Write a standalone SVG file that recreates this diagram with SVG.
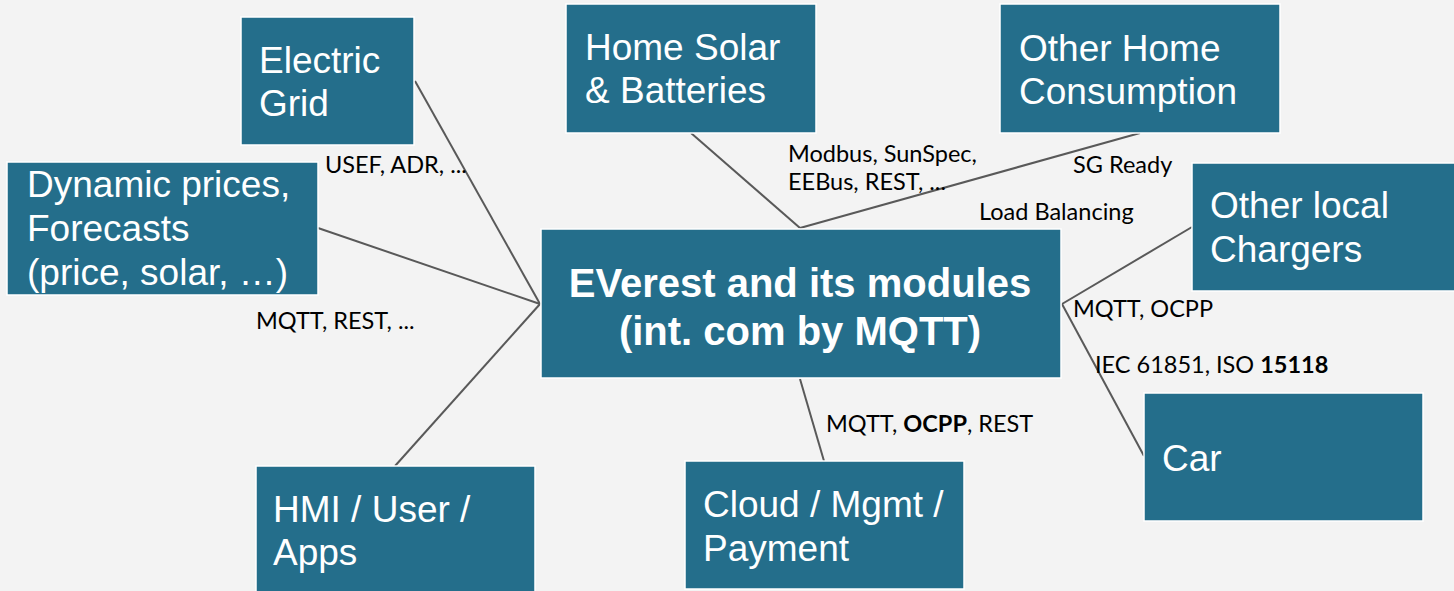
<svg xmlns="http://www.w3.org/2000/svg" width="1454" height="591" viewBox="0 0 1454 591">
<style>
.box{fill:#246e8b;stroke:#ffffff;stroke-width:1.5}
.t{font-family:"Liberation Sans",Arial,sans-serif;font-size:37px;fill:#ffffff}
.tb{font-family:"Liberation Sans",Arial,sans-serif;font-size:40px;font-weight:bold;fill:#ffffff;text-anchor:middle}
.l{font-family:Lato,"Liberation Sans",sans-serif;font-size:23.5px;fill:#000000}
.c{stroke:#595959;stroke-width:2;fill:none}
</style>
<rect width="1454" height="591" fill="#f3f3f3"/>
<g id="connectors">
<line class="c" x1="415" y1="81" x2="540" y2="304"/>
<line class="c" x1="318" y1="228" x2="540" y2="304"/>
<line class="c" x1="395" y1="466" x2="540" y2="304"/>
<line class="c" x1="691" y1="133" x2="800" y2="228"/>
<line class="c" x1="1140" y1="133" x2="800" y2="228"/>
<line class="c" x1="1192" y1="227" x2="1062" y2="304"/>
<line class="c" x1="1062" y1="304" x2="1144" y2="456"/>
<line class="c" x1="800" y1="379" x2="824" y2="461"/>
<text class="l" x="325" y="173">USEF, ADR, ...</text>
<text class="l" x="788" y="162">Modbus, SunSpec,</text>
<text class="l" x="788" y="190">EEBus, REST, ...</text>
<text class="l" x="1073" y="173">SG Ready</text>
<text class="l" x="979" y="220">Load Balancing</text>
<text class="l" x="256" y="329">MQTT, REST, ...</text>
<text class="l" x="1073" y="317">MQTT, OCPP</text>
<text class="l" x="1095" y="373">IEC 61851, ISO <tspan font-weight="bold">15118</tspan></text>
<text class="l" x="826" y="432">MQTT, <tspan font-weight="bold">OCPP</tspan>, REST</text>
</g>
<g id="electric-grid">
<rect class="box" x="241" y="17" width="173" height="128"/>
<text class="t" x="259" y="73">Electric</text>
<text class="t" x="259" y="116">Grid</text>
</g>
<g id="dynamic-prices">
<rect class="box" x="7" y="162" width="311" height="133"/>
<text class="t" x="27" y="197">Dynamic prices,</text>
<text class="t" x="27" y="241">Forecasts</text>
<text class="t" x="27" y="285">(price, solar, …)</text>
</g>
<g id="home-solar">
<rect class="box" x="566" y="4" width="250" height="129"/>
<text class="t" x="585" y="60">Home Solar</text>
<text class="t" x="585" y="103">&amp; Batteries</text>
</g>
<g id="other-home">
<rect class="box" x="1000" y="4" width="280" height="129"/>
<text class="t" x="1019" y="61">Other Home</text>
<text class="t" x="1019" y="104">Consumption</text>
</g>
<g id="other-chargers">
<rect class="box" x="1192" y="163" width="264" height="128"/>
<text class="t" x="1210" y="218">Other local</text>
<text class="t" x="1210" y="262">Chargers</text>
</g>
<g id="everest">
<rect class="box" x="541" y="229" width="520" height="149"/>
<text class="tb" x="800" y="297">EVerest and its modules</text>
<text class="tb" x="800" y="345">(int. com by MQTT)</text>
</g>
<g id="hmi">
<rect class="box" x="256" y="466" width="279" height="130"/>
<text class="t" x="273" y="522">HMI / User /</text>
<text class="t" x="273" y="565">Apps</text>
</g>
<g id="cloud">
<rect class="box" x="685" y="461" width="279" height="128"/>
<text class="t" x="703" y="517">Cloud / Mgmt /</text>
<text class="t" x="703" y="561">Payment</text>
</g>
<g id="car">
<rect class="box" x="1144" y="393" width="279" height="128"/>
<text class="t" x="1162" y="471">Car</text>
</g>
</svg>
